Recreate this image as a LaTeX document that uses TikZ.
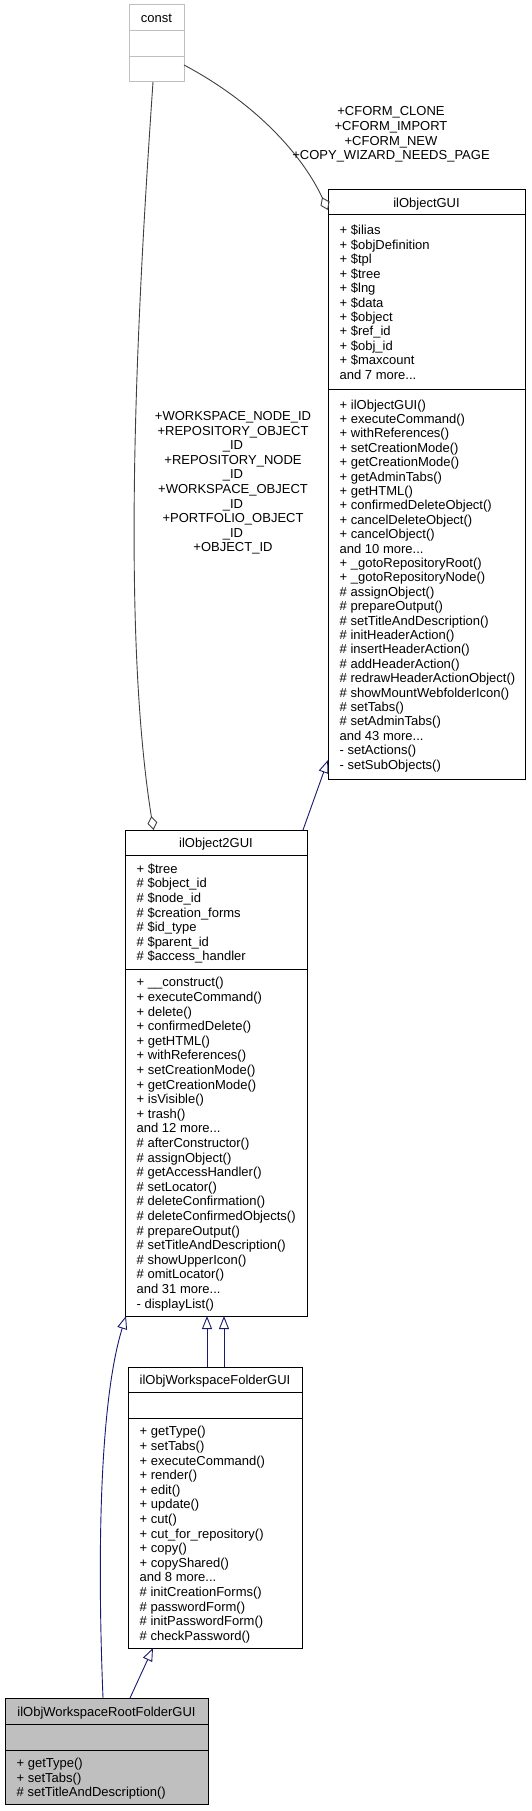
\documentclass[tikz,border=0pt]{standalone}
\usepackage{fontspec}
\setmainfont{Liberation Sans}
\usetikzlibrary{arrows.meta}
\definecolor{edgeblue}{HTML}{191970}
\definecolor{edgegray}{HTML}{404040}
\definecolor{boxgray}{HTML}{BFBFBF}
\newcommand\mydots{...}
\begin{document}
\begin{tikzpicture}[x=1pt,y=-1pt,
  umlbox/.style={draw=black,line width=1pt,anchor=north west,inner sep=0pt,outer sep=0pt},
  sepline/.style={draw=black,line width=1pt},
  rowtext/.style={anchor=base west,inner sep=0pt,font=\fontsize{13}{14.6}\selectfont},
  titletext/.style={anchor=base,inner sep=0pt,font=\fontsize{13}{14.6}\selectfont},
  edgelabel/.style={align=center,inner sep=0pt,font=\fontsize{13}{14.6}\selectfont},
  inherit/.style={draw=edgeblue,line width=0.9pt,-{Triangle[open,length=13pt,width=10pt]}},
  aggr/.style={draw=edgegray,line width=0.9pt,-{Diamond[open,length=14pt,width=10pt]}}]
\useasboundingbox (0,0) rectangle (531,1811);

% ---- const ----
\node[umlbox,draw=boxgray,minimum width=55pt,minimum height=77pt] (const) at (129,5) {};
\draw[draw=boxgray,line width=1pt] (129,31) -- (184,31) (129,57) -- (184,57);
\node[titletext] (constT) at (156.5,23) {const};

% ---- ilObjectGUI ----
\node[umlbox,minimum width=197pt,minimum height=589pt] (ilobj) at (328,190) {};
\draw[sepline] (328,215) -- (525,215) (328,389) -- (525,389);
\node[titletext] (ilobjT) at (426.5,207.5) {ilObjectGUI};
\foreach \t [count=\i from 0] in {{+ \$ilias},{+ \$objDefinition},{+ \$tpl},{+ \$tree},{+ \$lng},{+ \$data},{+ \$object},{+ \$ref\_id},{+ \$obj\_id},{+ \$maxcount},{and 7 more\mydots}}
  \node[rowtext] (ilobjA\i) at (339.5,{235+\i*14.4}) {\t};
\foreach \t [count=\i from 0] in {{+ ilObjectGUI()},{+ executeCommand()},{+ withReferences()},{+ setCreationMode()},{+ getCreationMode()},{+ getAdminTabs()},{+ getHTML()},{+ confirmedDeleteObject()},{+ cancelDeleteObject()},{+ cancelObject()},{and 10 more\mydots},{+ \_gotoRepositoryRoot()},{+ \_gotoRepositoryNode()},{\# assignObject()},{\# prepareOutput()},{\# setTitleAndDescription()},{\# initHeaderAction()},{\# insertHeaderAction()},{\# addHeaderAction()},{\# redrawHeaderActionObject()},{\# showMountWebfolderIcon()},{\# setTabs()},{\# setAdminTabs()},{and 43 more\mydots},{- setActions()},{- setSubObjects()}}
  \node[rowtext] (ilobjM\i) at (339.5,{409+\i*14.4}) {\t};

% ---- ilObject2GUI ----
\node[umlbox,minimum width=182pt,minimum height=486pt] (ilobj2) at (125,830) {};
\draw[sepline] (125,855) -- (307,855) (125,969) -- (307,969);
\node[titletext] (ilobj2T) at (216,847.5) {ilObject2GUI};
\foreach \t [count=\i from 0] in {{+ \$tree},{\# \$object\_id},{\# \$node\_id},{\# \$creation\_forms},{\# \$id\_type},{\# \$parent\_id},{\# \$access\_handler}}
  \node[rowtext] (ilobj2A\i) at (136.5,{873.2+\i*14.6}) {\t};
\foreach \t [count=\i from 0] in {{+ \_\_construct()},{+ executeCommand()},{+ delete()},{+ confirmedDelete()},{+ getHTML()},{+ withReferences()},{+ setCreationMode()},{+ getCreationMode()},{+ isVisible()},{+ trash()},{and 12 more\mydots},{\# afterConstructor()},{\# assignObject()},{\# getAccessHandler()},{\# setLocator()},{\# deleteConfirmation()},{\# deleteConfirmedObjects()},{\# prepareOutput()},{\# setTitleAndDescription()},{\# showUpperIcon()},{\# omitLocator()},{and 31 more\mydots},{- displayList()}}
  \node[rowtext] (ilobj2M\i) at (136.5,{986.9+\i*14.6}) {\t};

% ---- ilObjWorkspaceFolderGUI ----
\node[umlbox,minimum width=174pt,minimum height=281pt] (folder) at (128,1367) {};
\draw[sepline] (128,1392) -- (302,1392) (128,1418) -- (302,1418);
\node[titletext] (folderT) at (215,1384.5) {ilObjWorkspaceFolderGUI};
\foreach \t [count=\i from 0] in {{+ getType()},{+ setTabs()},{+ executeCommand()},{+ render()},{+ edit()},{+ update()},{+ cut()},{+ cut\_for\_repository()},{+ copy()},{+ copyShared()},{and 8 more\mydots},{\# initCreationForms()},{\# passwordForm()},{\# initPasswordForm()},{\# checkPassword()}}
  \node[rowtext] (folderM\i) at (139.5,{1435.8+\i*14.6}) {\t};

% ---- ilObjWorkspaceRootFolderGUI ----
\node[umlbox,fill=boxgray,minimum width=203pt,minimum height=106pt] (root) at (5,1698) {};
\draw[sepline] (5,1724) -- (208,1724) (5,1750) -- (208,1750);
\node[titletext] (rootT) at (106.5,1716) {ilObjWorkspaceRootFolderGUI};
\foreach \t [count=\i from 0] in {{+ getType()},{+ setTabs()},{\# setTitleAndDescription()}}
  \node[rowtext] (rootM\i) at (16.5,{1767.4+\i*14.6}) {\t};

% ---- edges ----
\draw[aggr] ([yshift=-21.5pt]const.east) .. controls (250,100) and (300,150) .. ([yshift=-20pt]ilobj.north west);
\node[edgelabel] (lblA) at (391,134.5) {+CFORM\_CLONE\\+CFORM\_IMPORT\\+CFORM\_NEW\\+COPY\_WIZARD\_NEEDS\_PAGE};

\draw[aggr] ([xshift=-3.5pt]const.south) .. controls (138,300) and (120,620) .. ([xshift=28.5pt]ilobj2.north west);
\node[edgelabel] (lblB) at (233,483) {+WORKSPACE\_NODE\_ID\\+REPOSITORY\_OBJECT\\\_ID\\+REPOSITORY\_NODE\\\_ID\\+WORKSPACE\_OBJECT\\\_ID\\+PORTFOLIO\_OBJECT\\\_ID\\+OBJECT\_ID};

\draw[inherit] ([xshift=-4pt]ilobj2.north east) -- ([yshift=19pt]ilobj.south west);

\draw[inherit] ([xshift=79pt]folder.north west) -- ([xshift=79pt]folder.north west |- ilobj2.south);
\draw[inherit] ([xshift=96pt]folder.north west) -- ([xshift=96pt]folder.north west |- ilobj2.south);

\draw[inherit] ([xshift=125pt]root.north west) -- ([xshift=25pt]folder.south west);
\draw[inherit] ([xshift=98pt]root.north west) .. controls (97,1550) and (100,1400) .. ([xshift=1pt]ilobj2.south west);
\end{tikzpicture}
\end{document}
